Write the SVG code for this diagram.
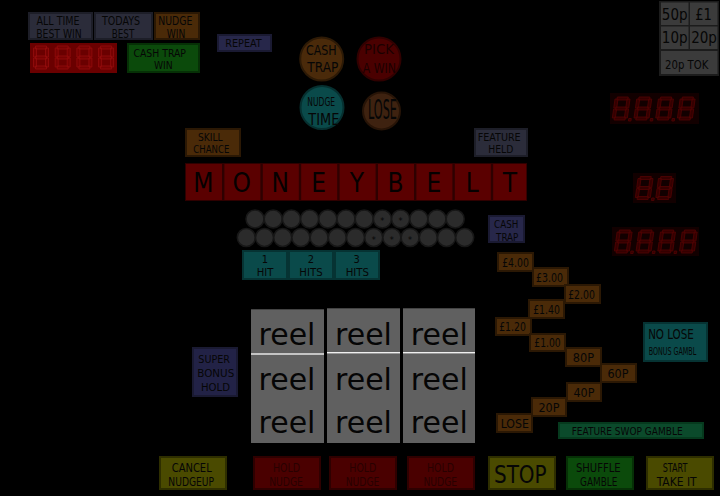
<svg xmlns="http://www.w3.org/2000/svg" xmlns:xlink="http://www.w3.org/1999/xlink" width="720" height="496" viewBox="0 0 720 496">
<style>
.t{font-family:"Liberation Sans Narrow","DejaVu Sans Condensed","Liberation Sans",sans-serif;text-anchor:middle;fill:#060606}
.slate{fill:#2b2c3a;stroke:#1d1e28;stroke-width:2}
.blue{fill:#27274a;stroke:#1a1a32;stroke-width:2}
.brown{fill:#4a2a08;stroke:#2b1804;stroke-width:2}
.green{fill:#0b4a0b;stroke:#063006;stroke-width:2}
.teal{fill:#0a4a4a;stroke:#063333;stroke-width:2}
.red{fill:#4a0000;stroke:#2e0000;stroke-width:2}
.olive{fill:#4a4a00;stroke:#2e2e00;stroke-width:2}
.coin{fill:#3b3b3b}
.dot{fill:#2b2b2b;stroke:#171717;stroke-width:1.5}
.reel{fill:#606060}
.dl{fill:#760202;stroke:#940c0c;stroke-width:0.8}
.dr{fill:#340000;stroke:#500202;stroke-width:0.8}
.f9{font-size:9px}.f10{font-size:10px}.f11{font-size:11px}.f12{font-size:12px}.f13{font-size:13px}.f14{font-size:14px}.f16{font-size:16px}
.rt{font-family:"DejaVu Sans",sans-serif;font-size:30px;text-anchor:middle;fill:#050505}
.big{font-size:26px}
</style>
<defs>
<symbol id="dig" viewBox="0 0 16 24" overflow="visible">
<path d="M2.5 0.5h11v3h-11zM0.5 2.5h3v9h-3zM12.5 2.5h3v9h-3zM2.5 10.5h11v3h-11zM0.5 12.5h3v9h-3zM12.5 12.5h3v9h-3zM2.5 20.5h11v3h-11z"/>
</symbol>
</defs>
<rect width="720" height="496" fill="#000"/>

<g id="all-time-best-win"><rect class="slate" x="29" y="13" width="63" height="26"/>
<text class="t f12" x="58" y="25" textLength="43" lengthAdjust="spacingAndGlyphs">ALL TIME</text>
<text class="t f12" x="59" y="37.5" textLength="45.5" lengthAdjust="spacingAndGlyphs">BEST WIN</text></g>
<g id="todays-best"><rect class="slate" x="95" y="13" width="57" height="26"/>
<text class="t f12" x="121" y="25" textLength="38" lengthAdjust="spacingAndGlyphs">TODAYS</text>
<text class="t f12" x="123" y="37.5" textLength="22.5" lengthAdjust="spacingAndGlyphs">BEST</text></g>
<g id="nudge-win"><rect class="brown" x="155" y="13" width="44" height="26"/>
<text class="t f12" x="175.3" y="25" textLength="34" lengthAdjust="spacingAndGlyphs">NUDGE</text>
<text class="t f12" x="176" y="37.5" textLength="18.5" lengthAdjust="spacingAndGlyphs">WIN</text></g>

<g id="left-display"><rect x="30" y="43" width="87" height="30" fill="#6a0000"/>
<use xlink:href="#dig" class="dl" x="33" y="45.3" width="16" height="24.4"/>
<use xlink:href="#dig" class="dl" x="54.7" y="45.3" width="16" height="24.4"/>
<use xlink:href="#dig" class="dl" x="76.4" y="45.3" width="16" height="24.4"/>
<use xlink:href="#dig" class="dl" x="98.1" y="45.3" width="16" height="24.4"/></g>

<g id="cash-trap-win"><rect class="green" x="128" y="44" width="71" height="28"/>
<text class="t f11" x="159.7" y="57.3" textLength="52.5" lengthAdjust="spacingAndGlyphs">CASH TRAP</text>
<text class="t f11" x="163.3" y="69" textLength="18.7" lengthAdjust="spacingAndGlyphs">WIN</text></g>

<g id="repeat"><rect class="blue" x="218" y="35" width="53" height="16"/>
<text class="t f10" x="243.5" y="47" textLength="36.5" lengthAdjust="spacingAndGlyphs">REPEAT</text></g>

<g id="cash-trap-lamp"><circle cx="321.7" cy="59" r="21.5" fill="#4a2a0a" stroke="#2d1a06" stroke-width="2"/>
<text class="t f14" x="321.3" y="55" textLength="30.7" lengthAdjust="spacingAndGlyphs">CASH</text>
<text class="t f14" x="322.8" y="72.3" textLength="31" lengthAdjust="spacingAndGlyphs">TRAP</text></g>
<g id="pick-a-win"><circle cx="379" cy="59" r="21.5" fill="#4a0000" stroke="#300000" stroke-width="2"/>
<text class="t f14" x="379" y="54" textLength="30" lengthAdjust="spacingAndGlyphs" style="fill:#1a0000">PICK</text>
<text class="t f14" x="379.3" y="72.7" textLength="33.3" lengthAdjust="spacingAndGlyphs" style="fill:#1a0000">A WIN</text></g>
<g id="nudge-time"><circle cx="322" cy="107.5" r="21.5" fill="#0a4a4a" stroke="#063030" stroke-width="2"/>
<text class="t f12" x="321.2" y="106" textLength="27.7" lengthAdjust="spacingAndGlyphs">NUDGE</text>
<text class="t f16" x="323.8" y="125" textLength="31" lengthAdjust="spacingAndGlyphs">TIME</text></g>
<g id="lose-lamp"><circle cx="381.5" cy="111" r="18.5" fill="#3e2210" stroke="#271407" stroke-width="2"/>
<text class="t" style="font-size:26px" x="382.5" y="119.3" textLength="29" lengthAdjust="spacingAndGlyphs">LOSE</text></g>

<g id="coins"><rect x="659" y="1" width="60" height="75" fill="#1c1c1c"/>
<rect class="coin" x="661" y="2.5" width="27.5" height="22.5"/>
<rect class="coin" x="690" y="2.5" width="27.5" height="22.5"/>
<rect class="coin" x="661" y="26.5" width="27.5" height="22.5"/>
<rect class="coin" x="690" y="26.5" width="27.5" height="22.5"/>
<rect class="coin" x="661" y="51" width="56.5" height="23"/>
<text class="t f16" x="674.7" y="20" textLength="25.7" lengthAdjust="spacingAndGlyphs">50p</text>
<text class="t f16" x="703.5" y="20" textLength="16.7" lengthAdjust="spacingAndGlyphs">£1</text>
<text class="t f16" x="674.7" y="43.3" textLength="25.7" lengthAdjust="spacingAndGlyphs">10p</text>
<text class="t f16" x="704" y="43.3" textLength="25.7" lengthAdjust="spacingAndGlyphs">20p</text>
<text class="t" style="font-size:13px" x="686.7" y="68.8" textLength="43.3" lengthAdjust="spacingAndGlyphs">20p TOK</text></g>

<g id="right-display-1"><rect x="610" y="93" width="89" height="31" fill="#120000"/>
<g transform="translate(615 95.5) skewX(-8)"><use xlink:href="#dig" class="dr" width="16" height="26"/><rect class="dr" x="17" y="23" width="2.5" height="2.5"/></g>
<g transform="translate(636.7 95.5) skewX(-8)"><use xlink:href="#dig" class="dr" width="16" height="26"/><rect class="dr" x="17" y="23" width="2.5" height="2.5"/></g>
<g transform="translate(658.4 95.5) skewX(-8)"><use xlink:href="#dig" class="dr" width="16" height="26"/><rect class="dr" x="17" y="23" width="2.5" height="2.5"/></g>
<g transform="translate(680.1 95.5) skewX(-8)"><use xlink:href="#dig" class="dr" width="16" height="26"/></g></g>

<g id="right-display-2"><rect x="633" y="173" width="43" height="30" fill="#120000"/>
<g transform="translate(638 175) skewX(-8)"><use xlink:href="#dig" class="dr" width="16" height="26"/><rect class="dr" x="17" y="23" width="2.5" height="2.5"/></g>
<g transform="translate(658.5 175) skewX(-8)"><use xlink:href="#dig" class="dr" width="16" height="26"/></g></g>

<g id="right-display-3"><rect x="612" y="227" width="87" height="29" fill="#120000"/>
<g transform="translate(617 229) skewX(-8)"><use xlink:href="#dig" class="dr" width="16" height="25"/><rect class="dr" x="17" y="22" width="2.5" height="2.5"/></g>
<g transform="translate(638.7 229) skewX(-8)"><use xlink:href="#dig" class="dr" width="16" height="25"/><rect class="dr" x="17" y="22" width="2.5" height="2.5"/></g>
<g transform="translate(660.4 229) skewX(-8)"><use xlink:href="#dig" class="dr" width="16" height="25"/><rect class="dr" x="17" y="22" width="2.5" height="2.5"/></g>
<g transform="translate(682.1 229) skewX(-8)"><use xlink:href="#dig" class="dr" width="16" height="25"/></g></g>

<g id="skill-chance"><rect class="brown" x="186" y="129" width="54" height="27"/>
<text class="t f11" x="210.3" y="140.7" textLength="24.7" lengthAdjust="spacingAndGlyphs">SKILL</text>
<text class="t f11" x="211.3" y="152.7" textLength="36" lengthAdjust="spacingAndGlyphs">CHANCE</text></g>
<g id="feature-held"><rect class="slate" x="475" y="129" width="52" height="27"/>
<text class="t f11" x="499.2" y="140.7" textLength="43" lengthAdjust="spacingAndGlyphs">FEATURE</text>
<text class="t f11" x="500.8" y="152.7" textLength="25" lengthAdjust="spacingAndGlyphs">HELD</text></g>

<g id="moneybelt"><rect x="185" y="163" width="342" height="38" fill="#2e0000"/>
<g fill="#5a0000">
<rect x="186" y="164" width="36" height="36"/><rect x="224.4" y="164" width="36" height="36"/><rect x="262.8" y="164" width="36" height="36"/>
<rect x="301.2" y="164" width="36" height="36"/><rect x="339.6" y="164" width="36" height="36"/><rect x="378" y="164" width="36" height="36"/>
<rect x="416.4" y="164" width="36" height="36"/><rect x="454.8" y="164" width="36" height="36"/><rect x="493.2" y="164" width="33" height="36"/></g>
<g class="t big" style="fill:#050000">
<text x="203.4" y="191.7">M</text><text x="241.8" y="191.7">O</text><text x="280.2" y="191.7">N</text>
<text x="318.6" y="191.7">E</text><text x="357" y="191.7">Y</text><text x="395.4" y="191.7">B</text>
<text x="433.8" y="191.7">E</text><text x="472.2" y="191.7">L</text><text x="510" y="191.7">T</text></g></g>

<g id="lamp-rows">
<g class="dot">
<circle cx="255" cy="219" r="9"/><circle cx="273.2" cy="219" r="9"/><circle cx="291.4" cy="219" r="9"/><circle cx="309.6" cy="219" r="9"/>
<circle cx="327.8" cy="219" r="9"/><circle cx="346" cy="219" r="9"/><circle cx="364.2" cy="219" r="9"/><circle cx="382.4" cy="219" r="9"/>
<circle cx="400.6" cy="219" r="9"/><circle cx="418.8" cy="219" r="9"/><circle cx="437" cy="219" r="9"/><circle cx="455.2" cy="219" r="9"/>
<circle cx="246.3" cy="237.5" r="9"/><circle cx="264.5" cy="237.5" r="9"/><circle cx="282.7" cy="237.5" r="9"/><circle cx="300.9" cy="237.5" r="9"/>
<circle cx="319.1" cy="237.5" r="9"/><circle cx="337.3" cy="237.5" r="9"/><circle cx="355.5" cy="237.5" r="9"/><circle cx="373.7" cy="237.5" r="9"/>
<circle cx="391.9" cy="237.5" r="9"/><circle cx="410.1" cy="237.5" r="9"/><circle cx="428.3" cy="237.5" r="9"/><circle cx="446.5" cy="237.5" r="9"/>
<circle cx="464.7" cy="237.5" r="9"/></g>
<g class="t f9">
<text x="382.4" y="224">*</text><text x="400.6" y="224">*</text>
<text x="373.7" y="242.5">*</text><text x="391.9" y="242.5">*</text><text x="410.1" y="242.5">*</text></g></g>

<g id="cash-trap"><rect class="blue" x="489" y="216" width="35" height="26"/>
<text class="t f11" x="506.2" y="228.3" textLength="24.3" lengthAdjust="spacingAndGlyphs">CASH</text>
<text class="t f11" x="507.2" y="240.5" textLength="22.3" lengthAdjust="spacingAndGlyphs">TRAP</text></g>

<g id="hit-1"><rect class="teal" x="243" y="251" width="44" height="28"/>
<text class="t f11" x="265" y="262.7">1</text>
<text class="t f11" x="265" y="276" textLength="16.7" lengthAdjust="spacingAndGlyphs">HIT</text></g>
<g id="hit-2"><rect class="teal" x="289" y="251" width="44" height="28"/>
<text class="t f11" x="310.8" y="262.7">2</text>
<text class="t f11" x="311" y="276" textLength="23.3" lengthAdjust="spacingAndGlyphs">HITS</text></g>
<g id="hit-3"><rect class="teal" x="335" y="251" width="44" height="28"/>
<text class="t f11" x="356.7" y="262.7">3</text>
<text class="t f11" x="357.3" y="276" textLength="23.3" lengthAdjust="spacingAndGlyphs">HITS</text></g>

<g id="prize-4-00"><rect class="brown" x="498" y="253" width="35" height="18"/><text class="t f13" x="515.5" y="266.7" textLength="26.7" lengthAdjust="spacingAndGlyphs">£4.00</text></g>
<g id="prize-3-00"><rect class="brown" x="533" y="268" width="35" height="18"/><text class="t f13" x="549.5" y="281.7" textLength="27" lengthAdjust="spacingAndGlyphs">£3.00</text></g>
<g id="prize-2-00"><rect class="brown" x="565" y="285" width="35" height="18"/><text class="t f13" x="581.5" y="298.7" textLength="26.7" lengthAdjust="spacingAndGlyphs">£2.00</text></g>
<g id="prize-1-40"><rect class="brown" x="529" y="300" width="35" height="18"/><text class="t f13" x="546.5" y="313.7" textLength="26.7" lengthAdjust="spacingAndGlyphs">£1.40</text></g>
<g id="prize-1-20"><rect class="brown" x="496" y="318" width="35" height="17"/><text class="t f13" x="512.5" y="331" textLength="26.7" lengthAdjust="spacingAndGlyphs">£1.20</text></g>
<g id="prize-1-00"><rect class="brown" x="530" y="334" width="35" height="17"/><text class="t f13" x="547.5" y="347" textLength="26.4" lengthAdjust="spacingAndGlyphs">£1.00</text></g>
<g id="prize-80p"><rect class="brown" x="566" y="348" width="35" height="18"/><text class="t f13" x="583.5" y="361.7" textLength="21.3" lengthAdjust="spacingAndGlyphs">80P</text></g>
<g id="prize-60p"><rect class="brown" x="601" y="364" width="35" height="18"/><text class="t f13" x="618" y="377.7" textLength="21" lengthAdjust="spacingAndGlyphs">60P</text></g>
<g id="prize-40p"><rect class="brown" x="567" y="383" width="34" height="18"/><text class="t f13" x="584" y="396.7" textLength="21" lengthAdjust="spacingAndGlyphs">40P</text></g>
<g id="prize-20p"><rect class="brown" x="532" y="398" width="34" height="18"/><text class="t f13" x="549" y="411.7" textLength="21" lengthAdjust="spacingAndGlyphs">20P</text></g>
<g id="prize-lose"><rect class="brown" x="497" y="414" width="35" height="18"/><text class="t f13" x="514.8" y="427.7" textLength="28.3" lengthAdjust="spacingAndGlyphs">LOSE</text></g>

<g id="no-lose-bonus-gamble"><rect class="teal" x="644" y="323" width="63" height="38"/>
<text class="t f14" x="671" y="339.3" textLength="45.7" lengthAdjust="spacingAndGlyphs">NO LOSE</text>
<text class="t f10" x="672.5" y="355" textLength="47.5" lengthAdjust="spacingAndGlyphs">BONUS GAMBL</text></g>

<g id="feature-swop-gamble"><rect class="green" x="559" y="423" width="144" height="15" style="fill:#0b4a2b;stroke:#063a1e"/>
<text class="t f11" x="627.2" y="435" textLength="111" lengthAdjust="spacingAndGlyphs">FEATURE SWOP GAMBLE</text></g>

<g id="super-bonus-hold"><rect class="blue" x="193" y="348" width="44" height="48" style="fill:#222246"/>
<text class="t f11" x="214.2" y="362.7" textLength="31.7" lengthAdjust="spacingAndGlyphs">SUPER</text>
<text class="t f11" x="215.8" y="376.7" textLength="37" lengthAdjust="spacingAndGlyphs">BONUS</text>
<text class="t f11" x="215.5" y="390.7" textLength="29" lengthAdjust="spacingAndGlyphs">HOLD</text></g>

<g id="reel-1"><rect class="reel" x="251" y="309.3" width="73" height="133.7"/>
<rect x="251" y="353.3" width="73" height="1.4" fill="#f0f0f0"/>
<text class="rt" x="287" y="345">reel</text><text class="rt" x="287" y="389.5">reel</text><text class="rt" x="287" y="433">reel</text></g>
<g id="reel-2"><rect class="reel" x="327" y="308.3" width="73" height="134.7"/>
<rect x="327" y="352" width="73" height="1.4" fill="#f0f0f0"/>
<text class="rt" x="363.5" y="345">reel</text><text class="rt" x="363.5" y="389.5">reel</text><text class="rt" x="363.5" y="433">reel</text></g>
<g id="reel-3"><rect class="reel" x="403" y="308.3" width="72" height="134.7"/>
<rect x="403" y="352" width="72" height="1.4" fill="#f0f0f0"/>
<text class="rt" x="439.3" y="345">reel</text><text class="rt" x="439.3" y="389.5">reel</text><text class="rt" x="439.3" y="433">reel</text></g>

<g id="cancel-nudgeup"><rect class="olive" x="160" y="457" width="66" height="32"/>
<text class="t f12" x="191.7" y="472" textLength="40" lengthAdjust="spacingAndGlyphs">CANCEL</text>
<text class="t f12" x="191.2" y="485.5" textLength="45.7" lengthAdjust="spacingAndGlyphs">NUDGEUP</text></g>
<g id="hold-nudge-1"><rect class="red" x="254" y="457" width="66" height="32"/>
<text class="t f12" x="286.5" y="472" textLength="27" lengthAdjust="spacingAndGlyphs" style="fill:#280000">HOLD</text>
<text class="t f12" x="286" y="485.5" textLength="33.7" lengthAdjust="spacingAndGlyphs" style="fill:#280000">NUDGE</text></g>
<g id="hold-nudge-2"><rect class="red" x="330" y="457" width="66" height="32"/>
<text class="t f12" x="362.8" y="472" textLength="27" lengthAdjust="spacingAndGlyphs" style="fill:#280000">HOLD</text>
<text class="t f12" x="362.5" y="485.5" textLength="33.7" lengthAdjust="spacingAndGlyphs" style="fill:#280000">NUDGE</text></g>
<g id="hold-nudge-3"><rect class="red" x="408" y="457" width="66" height="32"/>
<text class="t f12" x="440.5" y="472" textLength="27" lengthAdjust="spacingAndGlyphs" style="fill:#280000">HOLD</text>
<text class="t f12" x="440.3" y="485.5" textLength="33.7" lengthAdjust="spacingAndGlyphs" style="fill:#280000">NUDGE</text></g>
<g id="stop"><rect class="olive" x="489" y="457" width="66" height="32"/>
<text class="t" style="font-size:24px" x="520.3" y="482.7" textLength="52.7" lengthAdjust="spacingAndGlyphs">STOP</text></g>
<g id="shuffle-gamble"><rect class="green" x="567" y="457" width="66" height="32"/>
<text class="t f12" x="598.3" y="472" textLength="44.7" lengthAdjust="spacingAndGlyphs">SHUFFLE</text>
<text class="t f12" x="598.7" y="485.5" textLength="37.3" lengthAdjust="spacingAndGlyphs">GAMBLE</text></g>
<g id="start-take-it"><rect class="olive" x="647" y="457" width="66" height="32"/>
<text class="t f12" x="675" y="472" textLength="24.7" lengthAdjust="spacingAndGlyphs">START</text>
<text class="t f12" x="676.7" y="485.5" textLength="40" lengthAdjust="spacingAndGlyphs">TAKE IT</text></g>
</svg>
